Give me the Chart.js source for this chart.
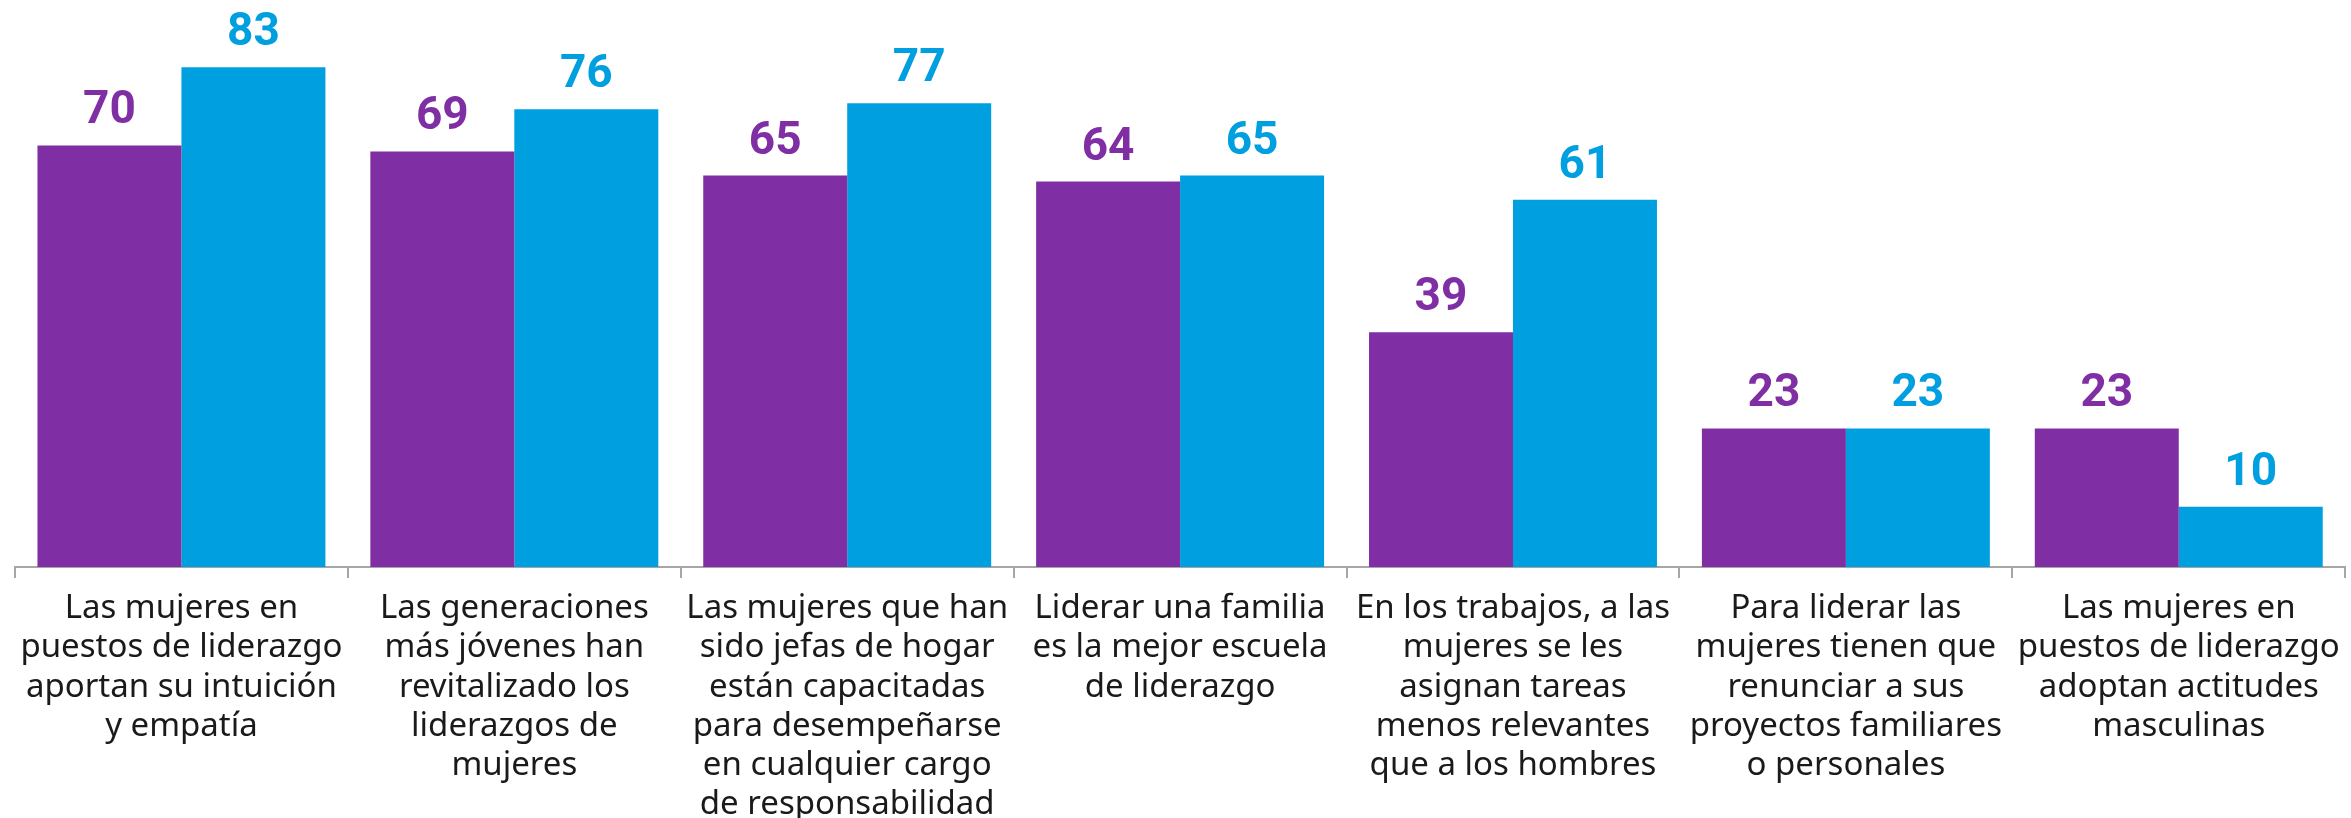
<!DOCTYPE html>
<html>
<head>
<meta charset="utf-8">
<script src="https://cdn.jsdelivr.net/npm/chart.js@4.4.1/dist/chart.umd.min.js"></script>
<style>
  html, body { margin: 0; padding: 0; background: #fff; }
  #wrap { width: 2351px; height: 818px; }
</style>
</head>
<body>
<div id="wrap"><canvas id="chart" width="2351" height="818"></canvas></div>
<script>
// categories (multi-line as in the original)
var categories = [
	["Las mujeres en", "puestos de liderazgo", "aportan su intuición", "y empatía"],
	["Las generaciones", "más jóvenes han", "revitalizado los", "liderazgos de", "mujeres"],
	["Las mujeres que han", "sido jefas de hogar", "están capacitadas", "para desempeñarse", "en cualquier cargo", "de responsabilidad"],
	["Liderar una familia", "es la mejor escuela", "de liderazgo"],
	["En los trabajos, a las", "mujeres se les", "asignan tareas", "menos relevantes", "que a los hombres"],
	["Para liderar las", "mujeres tienen que", "renunciar a sus", "proyectos familiares", "o personales"],
	["Las mujeres en", "puestos de liderazgo", "adoptan actitudes", "masculinas"]
];
var purpleValues = [70, 69, 65, 64, 39, 23, 23];
var blueValues = [83, 76, 77, 65, 61, 23, 10];

var purple = '#7f2fa3';
var blue = '#009fe0';
var axisGray = '#a6a6a6';

// draws the value above each bar
var valueLabels = {
	id: 'valueLabels',
	afterDatasetsDraw: function(chart) {
		var ctx = chart.ctx;
		ctx.save();
		ctx.font = 'bold 46px Roboto';
		ctx.textAlign = 'center';
		ctx.textBaseline = 'alphabetic';
		chart.data.datasets.forEach(function(ds, i) {
			var meta = chart.getDatasetMeta(i);
			ctx.fillStyle = ds.backgroundColor;
			meta.data.forEach(function(bar, j) {
				ctx.fillText(ds.data[j], bar.x, bar.y - 22);
			});
		});
		ctx.restore();
	}
};

var context = document.getElementById('chart').getContext('2d');
new Chart(context, {
	type: 'bar',
	data: {
		labels: categories,
		datasets: [
			{ data: purpleValues, backgroundColor: purple, categoryPercentage: 0.865, barPercentage: 1 },
			{ data: blueValues, backgroundColor: blue, categoryPercentage: 0.865, barPercentage: 1 }
		]
	},
	options: {
		responsive: false,
		animation: false,
		layout: { padding: { top: 25, left: 15, right: 3, bottom: 0 } },
		plugins: { legend: { display: false }, tooltip: { enabled: false } },
		scales: {
			y: { display: false, min: 0, max: 90 },
			x: {
				afterFit: function(scale) { scale.height = 251; },
				border: { color: axisGray, width: 2 },
				grid: { color: axisGray, lineWidth: 2, drawOnChartArea: false, tickLength: 11 },
				ticks: {
					color: '#1a1a1a',
					font: { family: 'Noto Sans', size: 33, lineHeight: 1.19 },
					padding: 11,
					maxRotation: 0,
					autoSkip: false
				}
			}
		}
	},
	plugins: [valueLabels]
});
</script>
</body>
</html>
